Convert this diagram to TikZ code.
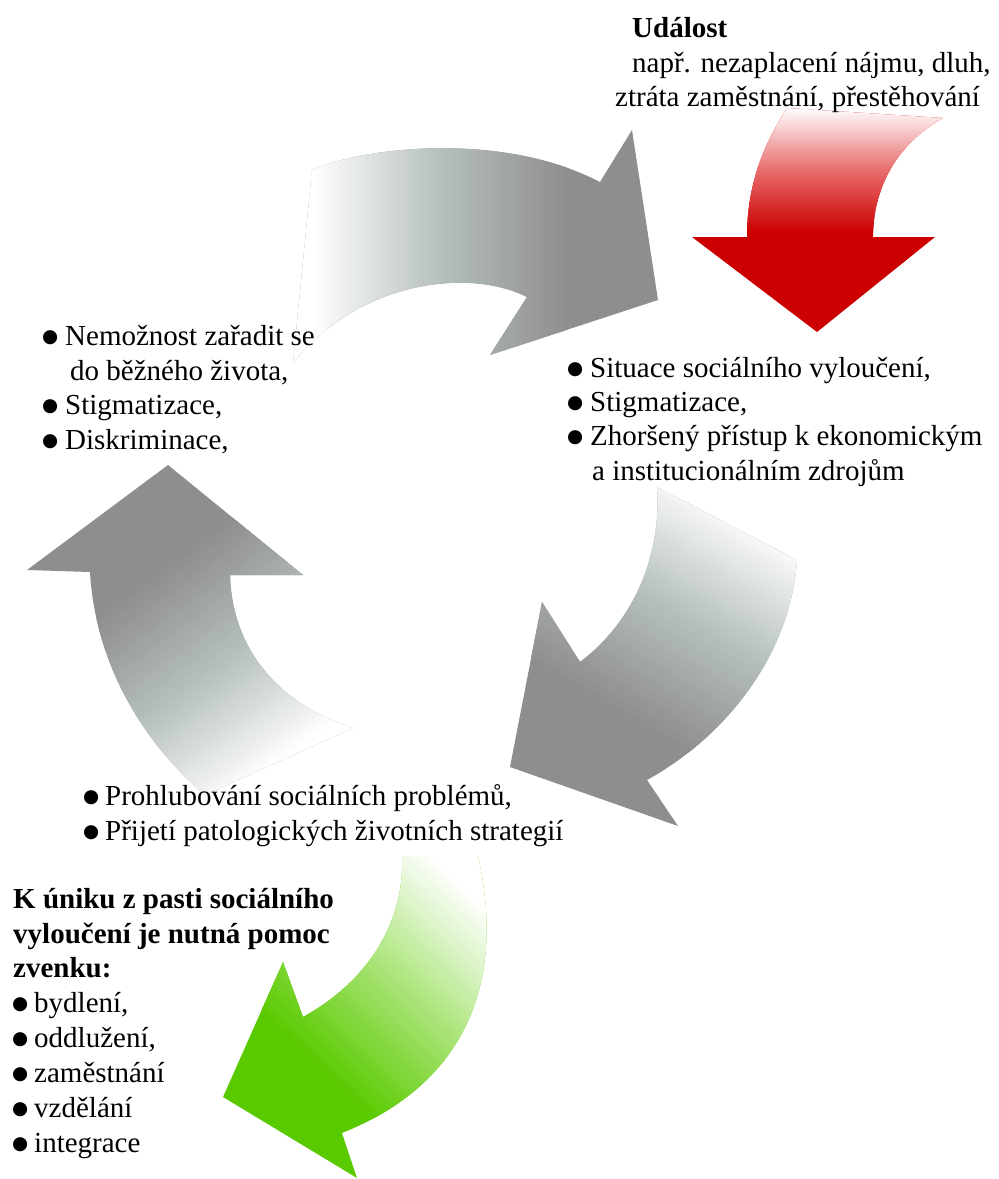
\documentclass[tikz,border=0pt]{standalone}
\usepackage{fontspec}
\setmainfont{Liberation Serif}
\newfontfamily\bulfont{DejaVu Sans}
\definecolor{agray}{RGB}{142,142,142}
\definecolor{amid}{RGB}{182,192,189}
\definecolor{ared}{RGB}{204,0,0}
\definecolor{aredmid}{RGB}{232,110,110}
\definecolor{agreen}{RGB}{90,202,0}
\definecolor{agreenmid}{RGB}{170,228,120}
\newcommand{\bul}[1]{\makebox[#1][l]{\raisebox{3pt}{\bulfont\fontsize{18.5}{18.5}\selectfont ●}}}
% #1 path, #2 solid, #3 mid, #4 origin, #5 angle, #6 length
\newcommand{\gradarrow}[6]{%
\begin{scope}
\clip #1;
\fill[#2] (-10,-10) rectangle (1010,1190);
\begin{scope}[shift={#4}, rotate=#5]
 \foreach \i in {0,...,29} {
   \pgfmathsetmacro\a{\i*#6/60}
   \pgfmathsetmacro\b{(\i+1)*#6/60+0.6}
   \pgfmathsetmacro\p{(\i+0.5)/30*100}
   \fill[#3!\p!#2] (\a,-700) rectangle (\b,700);
 }
 \foreach \i in {30,...,59} {
   \pgfmathsetmacro\a{\i*#6/60}
   \pgfmathsetmacro\b{(\i+1)*#6/60+0.6}
   \pgfmathsetmacro\p{(\i-29.5)/30*100}
   \fill[white!\p!#3] (\a,-700) rectangle (\b,700);
 }
 \fill[white] (#6,-700) rectangle (2500,700);
\end{scope}
\end{scope}}
\tikzset{
  txt/.style={anchor=base west, inner sep=0pt, font=\fontsize{29}{34}\selectfont},
  btxt/.style={txt, font=\fontsize{29}{34}\selectfont\bfseries}
}
\begin{document}
\begin{tikzpicture}[x=1pt,y=-1pt]
\useasboundingbox (0,0) rectangle (999,1179);
% top gray arrow
\gradarrow{(312,170) .. controls (360,148) and (500,130) .. (600,182) -- (632,130) -- (658,300) -- (490,355) -- (527,297) .. controls (470,268) and (360,280) .. (293,363) -- cycle}{agray}{amid}{(568,250)}{180}{256}
% red arrow
\gradarrow{(787,108) .. controls (760,150) and (747,190) .. (747,237) -- (692,237) -- (817,332) -- (935,237) -- (873,237) .. controls (873,190) and (895,145) .. (943,118) -- cycle}{ared}{aredmid}{(815,232)}{90}{124}
% right gray arrow
\gradarrow{(657,487) .. controls (662,560) and (630,625) .. (580,662) -- (542,602) -- (510,767) -- (678,826) -- (647,780) .. controls (720,740) and (790,660) .. (797,560) -- cycle}{agray}{amid}{(537,663)}{59.5}{232}
% left gray arrow
\gradarrow{(168,465) -- (303,575) -- (230,575) .. controls (232,650) and (280,705) .. (353,728) -- (205,795) .. controls (140,740) and (95,660) .. (90,572) -- (27,570) -- cycle}{agray}{amid}{(93,620)}{-54}{225}
% green arrow
\gradarrow{(402,856) .. controls (405,920) and (370,980) .. (303,1017) -- (283,962) -- (223,1097) -- (357,1178) -- (342,1133) .. controls (450,1090) and (510,1000) .. (478,856) -- cycle}{agreen}{agreenmid}{(277,1027)}{46}{230}

% top right text
\node[btxt] (ev1) at (632,37) {Událost};
\node[txt] (ev2) at (632,72) {např. nezaplacení nájmu, dluh,};
\node[txt] (ev3) at (615,106) {ztráta zaměstnání, přestěhování};
% left block
\node[txt] (l1) at (42,345) {\bul{23pt}Nemožnost zařadit se};
\node[txt] (l2) at (70,380) {do běžného života,};
\node[txt] (l3) at (42,414) {\bul{23pt}Stigmatizace,};
\node[txt] (l4) at (42,449) {\bul{23pt}Diskriminace,};
% right block
\node[txt] (r1) at (567,377) {\bul{23pt}Situace sociálního vyloučení,};
\node[txt] (r2) at (567,411) {\bul{23pt}Stigmatizace,};
\node[txt] (r3) at (567,445) {\bul{23pt}Zhoršený přístup k ekonomickým};
\node[txt] (r4) at (592,480) {a institucionálním zdrojům};
% bottom middle
\node[txt] (m1) at (83,805) {\bul{22pt}Prohlubování sociálních problémů,};
\node[txt] (m2) at (83,840) {\bul{22pt}Přijetí patologických životních strategií};
% bottom left
\node[btxt] (h1) at (13,908) {K úniku z pasti sociálního};
\node[btxt] (h2) at (13,943) {vyloučení je nutná pomoc};
\node[btxt] (h3) at (13,977) {zvenku:};
\node[txt] (b1) at (12,1012) {\bul{22pt}bydlení,};
\node[txt] (b2) at (12,1047) {\bul{22pt}oddlužení,};
\node[txt] (b3) at (12,1082) {\bul{22pt}zaměstnání};
\node[txt] (b4) at (12,1117) {\bul{22pt}vzdělání};
\node[txt] (b5) at (12,1152) {\bul{22pt}integrace};
\end{tikzpicture}
\end{document}
